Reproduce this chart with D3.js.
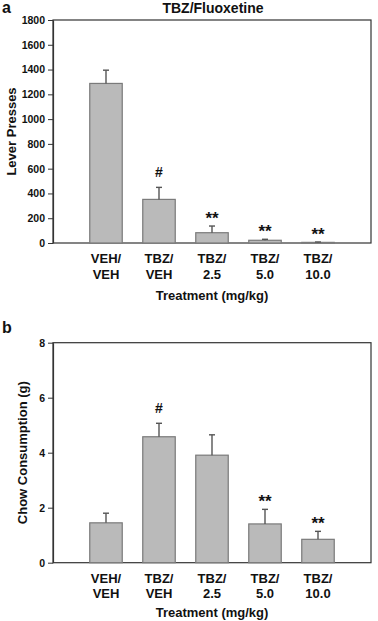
<!DOCTYPE html>
<html>
<head>
<meta charset="utf-8">
<script src="https://cdn.jsdelivr.net/npm/d3@7"></script>
<style>
  html, body { margin: 0; padding: 0; background: #fff; }
  svg { display: block; }
  text { font-family: Arial, "Liberation Sans", sans-serif; font-weight: bold; fill: #111; }
</style>
</head>
<body>
<svg id="chart" width="378" height="621"></svg>
<script>
// ---- data ----
const categoryLine1 = ["VEH/", "TBZ/", "TBZ/", "TBZ/", "TBZ/"];
const categoryLine2 = ["VEH", "VEH", "2.5", "5.0", "10.0"];
const categories = categoryLine1.map((d, i) => d + categoryLine2[i]);

const leverMeans = [1288, 352, 83, 22, 5];
const leverErr   = [107, 97, 54, 8, 3];
const leverMarks = ["", "#", "**", "**", "**"];
const leverTicks = [0, 200, 400, 600, 800, 1000, 1200, 1400, 1600, 1800];

const chowMeans = [1.45, 4.58, 3.91, 1.41, 0.85];
const chowErr   = [0.35, 0.49, 0.74, 0.53, 0.29];
const chowMarks = ["", "#", "", "**", "**"];
const chowTicks = [0, 2, 4, 6, 8];

const svg = d3.select("#chart");

function panel(opts) {
  const { top, bottom, left, right, means, errs, marks, ticks, yMax, yLabel, yLabelX,
          letter, letterY, xLab1, xLab2, xTitleY } = opts;
  const g = svg.append("g");

  const x = d3.scalePoint().domain(categories).range([left, right]).padding(1);
  const bw = x.step() * 0.613;
  const y = d3.scaleLinear().domain([0, yMax]).range([bottom, top]);

  // frame
  g.append("rect")
    .attr("x", left).attr("y", top)
    .attr("width", right - left).attr("height", bottom - top)
    .attr("fill", "none").attr("stroke", "#333").attr("stroke-width", 1.2);

  // bars
  g.selectAll("rect.bar").data(means).join("rect")
    .attr("class", "bar")
    .attr("x", (d, i) => x(categories[i]) - bw / 2)
    .attr("y", d => y(d))
    .attr("width", bw)
    .attr("height", d => y(0) - y(d))
    .attr("fill", "#bababa")
    .attr("stroke", "#7a7a7a")
    .attr("stroke-width", 1.2);

  // error bars (upper only)
  const eb = g.selectAll("g.err").data(means).join("g").attr("class", "err");
  eb.append("line")
    .attr("x1", (d, i) => x(categories[i])).attr("x2", (d, i) => x(categories[i]))
    .attr("y1", d => y(d)).attr("y2", (d, i) => y(d + errs[i]))
    .attr("stroke", "#555").attr("stroke-width", 1.4);
  eb.append("line")
    .attr("x1", (d, i) => x(categories[i]) - 3).attr("x2", (d, i) => x(categories[i]) + 3)
    .attr("y1", (d, i) => y(d + errs[i])).attr("y2", (d, i) => y(d + errs[i]))
    .attr("stroke", "#555").attr("stroke-width", 1.4);

  // significance marks
  g.selectAll("text.mark").data(means).join("text")
    .attr("class", "mark")
    .attr("x", (d, i) => x(categories[i]))
    .attr("y", (d, i) => y(d + errs[i]) - (marks[i] === "#" ? 10 : 2.5))
    .attr("text-anchor", "middle")
    .style("font-size", (d, i) => marks[i] === "#" ? "14px" : "17px")
    .text((d, i) => marks[i]);

  // y axis
  const yAxis = d3.axisLeft(y).tickValues(ticks).tickFormat(d3.format("d"))
    .tickSize(5).tickSizeOuter(0).tickPadding(3);
  const ya = g.append("g").attr("transform", `translate(${left},0)`).call(yAxis);
  ya.select(".domain").attr("stroke", "#333").attr("stroke-width", 1.2);
  ya.selectAll(".tick line").attr("stroke", "#333");
  ya.selectAll(".tick text").style("font-size", "10.5px").attr("fill", "#111");

  // x axis labels (two lines)
  const xl = g.selectAll("text.xl").data(categories).join("text")
    .attr("class", "xl")
    .attr("text-anchor", "middle")
    .style("font-size", "13px");
  xl.append("tspan").attr("x", d => x(d)).attr("y", xLab1).text((d, i) => categoryLine1[i]);
  xl.append("tspan").attr("x", d => x(d)).attr("y", xLab2).text((d, i) => categoryLine2[i]);

  g.append("text")
    .attr("x", (left + right) / 2).attr("y", xTitleY)
    .attr("text-anchor", "middle").style("font-size", "13px")
    .text("Treatment (mg/kg)");

  // y label
  g.append("text")
    .attr("transform", `translate(${yLabelX},${(top + bottom) / 2}) rotate(-90)`)
    .attr("text-anchor", "middle").style("font-size", "13px")
    .text(yLabel);

  // panel letter
  g.append("text").attr("x", 2).attr("y", letterY).style("font-size", "16px").text(letter);
}

panel({
  top: 20, bottom: 243, left: 53, right: 371,
  means: leverMeans, errs: leverErr, marks: leverMarks, ticks: leverTicks, yMax: 1800,
  yLabel: "Lever Presses", yLabelX: 16, letter: "a", letterY: 12.5,
  xLab1: 263, xLab2: 279, xTitleY: 300
});

panel({
  top: 342.7, bottom: 562.7, left: 53, right: 371,
  means: chowMeans, errs: chowErr, marks: chowMarks, ticks: chowTicks, yMax: 8,
  yLabel: "Chow Consumption (g)", yLabelX: 27, letter: "b", letterY: 333,
  xLab1: 583, xLab2: 598, xTitleY: 617
});

// title
svg.append("text")
  .attr("x", 213).attr("y", 12.7)
  .attr("text-anchor", "middle").style("font-size", "14px")
  .text("TBZ/Fluoxetine");
</script>
</body>
</html>
